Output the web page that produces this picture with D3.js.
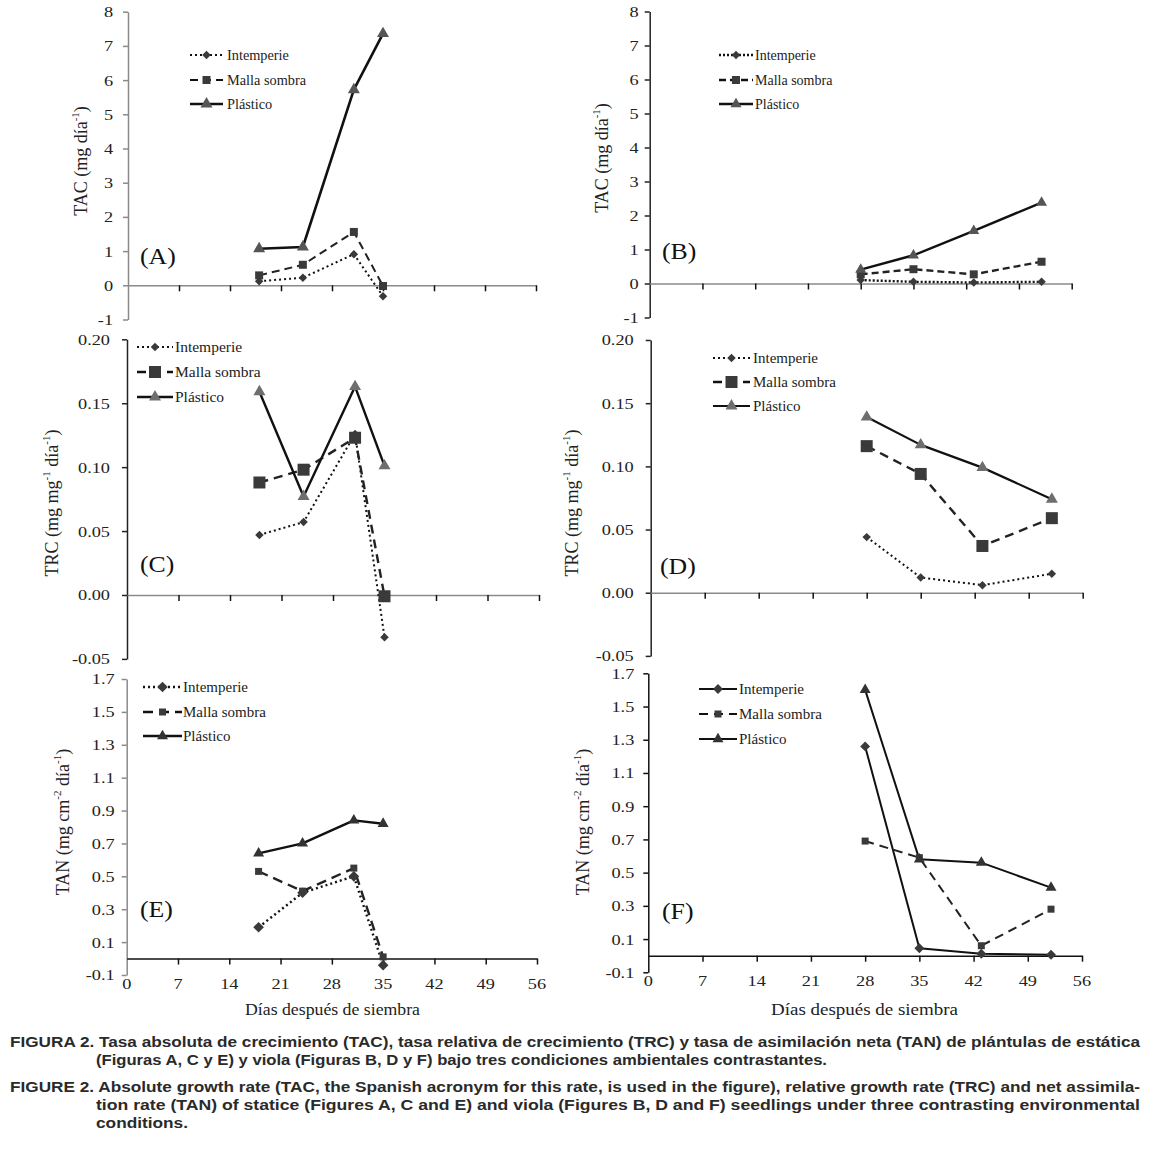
<!DOCTYPE html>
<html><head><meta charset="utf-8">
<script src="https://cdn.jsdelivr.net/npm/d3@7"></script>
<style>body{margin:0;background:#fff} svg{display:block}</style>
</head><body>
<svg id="c" width="1149" height="1150"></svg>
<script>
// ---------- data ----------
const seriesNames = ["Intemperie", "Malla sombra", "Plástico"];
const staticeDays = [18, 24, 31, 35];
const violaDays = [28, 35, 43, 52];
const dayTicks = [0, 7, 14, 21, 28, 35, 42, 49, 56];
const tacTicks = [-1, 0, 1, 2, 3, 4, 5, 6, 7, 8];
const trcTicks = [-0.05, 0, 0.05, 0.10, 0.15, 0.20];
const tanTicks = [-0.1, 0.1, 0.3, 0.5, 0.7, 0.9, 1.1, 1.3, 1.5, 1.7];

const tacA_intemperie = [0.12, 0.22, 0.91, -0.32];
const tacA_malla = [0.29, 0.60, 1.56, -0.02];
const tacA_plastico = [1.07, 1.12, 5.72, 7.36];
const tacB_intemperie = [0.10, 0.05, 0.03, 0.05];
const tacB_malla = [0.27, 0.42, 0.27, 0.64];
const tacB_plastico = [0.41, 0.83, 1.55, 2.38];
const trcC_intemperie = [0.047, 0.057, 0.126, -0.033];
const trcC_malla = [0.088, 0.098, 0.123, -0.001];
const trcC_plastico = [0.159, 0.077, 0.163, 0.101];
const trcD_intemperie = [0.044, 0.012, 0.006, 0.015];
const trcD_malla = [0.116, 0.094, 0.037, 0.059];
const trcD_plastico = [0.139, 0.117, 0.099, 0.074];
const tanE_intemperie = [0.19, 0.40, 0.50, -0.04];
const tanE_malla = [0.53, 0.41, 0.55, 0.01];
const tanE_plastico = [0.64, 0.70, 0.84, 0.82];
const tanF_intemperie = [1.26, 0.045, 0.012, 0.006];
const tanF_malla = [0.69, 0.59, 0.06, 0.28];
const tanF_plastico = [1.60, 0.58, 0.56, 0.41];

const captionLines = [
  "FIGURA 2. Tasa absoluta de crecimiento (TAC), tasa relativa de crecimiento (TRC) y tasa de asimilación neta (TAN) de plántulas de estática",
  "(Figuras A, C y E) y viola (Figuras B, D y F) bajo tres condiciones ambientales contrastantes.",
  "FIGURE 2. Absolute growth rate (TAC, the Spanish acronym for this rate, is used in the figure), relative growth rate (TRC) and net assimila-",
  "tion rate (TAN) of statice (Figures A, C and E) and viola (Figures B, D and F) seedlings under three contrasting environmental",
  "conditions."
];

// ---------- layout ----------
const svg = d3.select("#c");
const SERIF = "'Liberation Serif','Times New Roman',serif";
const SX = 1.18; // horizontal stretch of tick labels
const hy = f => (d => f(d).replace("\u2212", "-"));

const panels = [
  {lab:"(A)", labXY:[140,264], x0:128, x1:536, yr:[319.5,11.7], dom:[-1,8], ticks:tacTicks, fmt:hy(d3.format("d")), gap:15,
   days:staticeDays, data:[tacA_intemperie,tacA_malla,tacA_plastico], zeroCol:"#8a8a8a", yCol:"#8a8a8a",
   title:["TAC (mg día","-1",")"], tXY:[81,161], leg:{x0:190,x1:223,tx:227,ys:[55,80,104],fs:14.3},
   dash:["2,3","8,5",null], lw:[2,2,2.6], msz:{d:6,s:8,t:12}, triCol:"#555", xLabels:false},
  {lab:"(B)", labXY:[662,259], x0:649.7, x1:1071.7, yr:[317.5,11.5], dom:[-1,8], ticks:tacTicks, fmt:hy(d3.format("d")), gap:11,
   days:violaDays, data:[tacB_intemperie,tacB_malla,tacB_plastico], zeroCol:"#8a8a8a", yCol:"#222",
   title:["TAC (mg día","-1",")"], tXY:[602,158], leg:{x0:719,x1:753,tx:755,ys:[55,80,104],fs:14},
   dash:["2,2","7,4",null], lw:[2.4,2.4,2.4], msz:{d:6,s:8,t:11}, triCol:"#555", xLabels:false},
  {lab:"(C)", labXY:[140,572], x0:127, x1:539, yr:[658.9,339.3], dom:[-0.05,0.20], ticks:trcTicks, fmt:hy(d3.format(".2f")), gap:17,
   days:staticeDays, data:[trcC_intemperie,trcC_malla,trcC_plastico], zeroCol:"#8a8a8a", yCol:"#222",
   title:["TRC (mg mg","-1"," día","-1",")"], tXY:[52,503], leg:{x0:137,x1:173,tx:175,ys:[347,372,397],fs:15.5},
   dash:["2,3","9,6",null], lw:[2,2.4,2.4], msz:{d:6,s:12,t:12}, triCol:"#6e6e6e", xLabels:false},
  {lab:"(D)", labXY:[660,574], x0:650.7, x1:1082.7, yr:[655.9,340], dom:[-0.05,0.20], ticks:trcTicks, fmt:hy(d3.format(".2f")), gap:17,
   days:violaDays, data:[trcD_intemperie,trcD_malla,trcD_plastico], zeroCol:"#8a8a8a", yCol:"#222",
   title:["TRC (mg mg","-1"," día","-1",")"], tXY:[572,503], leg:{x0:713,x1:750,tx:753,ys:[358,382,406],fs:15},
   dash:["2,3","9,6",null], lw:[2,2.4,2.2], msz:{d:6,s:12,t:12}, triCol:"#6e6e6e", xLabels:false},
  {lab:"(E)", labXY:[140,917], x0:126.7, x1:537, yr:[975,679], dom:[-0.1,1.7], ticks:tanTicks, fmt:hy(d3.format(".1f")), gap:12,
   days:staticeDays, data:[tanE_intemperie,tanE_malla,tanE_plastico], zeroCol:"#111", yCol:"#8a8a8a",
   title:["TAN (mg cm","-2"," día","-1",")"], tXY:[63,822], leg:{x0:143,x1:182,tx:183,ys:[687,712,736],fs:15},
   dash:["2,3","10,6",null], lw:[2.4,2.4,2.4], msz:{d:7.5,s:7,t:11}, triCol:"#333", xLabels:true, xt:[245,420,1015]},
  {lab:"(F)", labXY:[662,919], x0:648.3, x1:1082, yr:[972.3,673.3], dom:[-0.1,1.7], ticks:tanTicks, fmt:hy(d3.format(".1f")), gap:14,
   days:violaDays, data:[tanF_intemperie,tanF_malla,tanF_plastico], zeroCol:"#111", yCol:"#111",
   title:["TAN (mg cm","-2"," día","-1",")"], tXY:[583,822], leg:{x0:699,x1:737,tx:739,ys:[689,714,739],fs:15},
   dash:[null,"9,6",null], lw:[2,2,2], msz:{d:7,s:7,t:11}, triCol:"#333", xLabels:true, xt:[771,958,1015]}
];

function markerPath(kind, size) {
  if (kind === 2) return d3.symbol(d3.symbolTriangle, Math.sqrt(3) / 4 * size * size)();
  return d3.symbol(d3.symbolSquare, size * size)(); // diamond = rotated square
}

panels.forEach(p => {
  const g = svg.append("g");
  const x = d3.scaleLinear().domain([0, 56]).range([p.x0, p.x1]);
  const y = d3.scaleLinear().domain(p.dom).range(p.yr);

  // y axis
  const ya = g.append("g").attr("transform", `translate(${p.x0},0)`)
    .call(d3.axisLeft(y).tickValues(p.ticks).tickSize(5).tickSizeOuter(0).tickFormat(p.fmt));
  ya.select(".domain").attr("stroke", p.yCol).attr("stroke-width", 1.5);
  ya.selectAll(".tick line").attr("stroke", p.yCol).attr("stroke-width", 1.5);
  ya.selectAll(".tick text")
    .attr("font-family", SERIF).attr("font-size", 15.5).attr("fill", "#222")
    .attr("x", -p.gap / SX).attr("transform", `scale(${SX},1)`);

  // x axis at zero
  const xa = g.append("g").attr("transform", `translate(0,${y(0)})`)
    .call(d3.axisBottom(x).tickValues(dayTicks.filter(d => d > 0)).tickSize(6).tickSizeOuter(0).tickFormat(""));
  xa.select(".domain").attr("stroke", p.zeroCol).attr("stroke-width", 1.6);
  xa.selectAll(".tick line").attr("stroke", "#111").attr("stroke-width", 1.5);

  if (p.xLabels) {
    g.append("g").selectAll("text").data(dayTicks).join("text")
      .attr("transform", d => `translate(${x(d)},${p.yr[0] + 14}) scale(${SX},1)`)
      .attr("text-anchor", "middle").attr("font-family", SERIF).attr("font-size", 15.5).attr("fill", "#222")
      .text(d => d);
    g.append("text").attr("x", p.xt[0]).attr("y", p.xt[2])
      .attr("textLength", p.xt[1] - p.xt[0]).attr("lengthAdjust", "spacingAndGlyphs")
      .attr("font-family", SERIF).attr("font-size", 17).attr("fill", "#222")
      .text("Días después de siembra");
  }

  // y title
  const tt = g.append("text")
    .attr("transform", `translate(${p.tXY[0]},${p.tXY[1]}) rotate(-90)`)
    .attr("text-anchor", "middle").attr("dominant-baseline", "central")
    .attr("font-family", SERIF).attr("font-size", 18).attr("fill", "#222");
  p.title.forEach(s => {
    const ts = tt.append("tspan").text(s);
    if (/^-\d$/.test(s)) ts.attr("font-size", 11).attr("baseline-shift", "super");
  });

  // panel label
  g.append("text").attr("x", p.labXY[0]).attr("y", p.labXY[1])
    .attr("font-family", SERIF).attr("font-size", 23).attr("fill", "#111")
    .attr("transform", `translate(${p.labXY[0]},0) scale(1.12,1) translate(${-p.labXY[0]},0)`)
    .text(p.lab);

  // series lines
  const line = d3.line().x((d, i) => x(p.days[i])).y(d => y(d));
  p.data.forEach((vals, si) => {
    g.append("path").attr("d", line(vals)).attr("fill", "none")
      .attr("stroke", si === 1 ? "#222" : "#111")
      .attr("stroke-width", p.lw[si])
      .attr("stroke-dasharray", p.dash[si])
      .attr("stroke-linejoin", "round");
  });
  // markers
  p.data.forEach((vals, si) => {
    const sz = si === 0 ? p.msz.d : si === 1 ? p.msz.s : p.msz.t;
    g.append("g").selectAll("path").data(vals).join("path")
      .attr("d", markerPath(si, sz))
      .attr("transform", (d, i) => `translate(${x(p.days[i])},${y(d)})` + (si === 0 ? " rotate(45)" : ""))
      .attr("fill", si === 2 ? p.triCol : "#3a3a3a");
  });

  // legend
  seriesNames.forEach((name, si) => {
    const ly = p.leg.ys[si];
    const lg = g.append("g");
    lg.append("line").attr("x1", p.leg.x0).attr("x2", p.leg.x1).attr("y1", ly).attr("y2", ly)
      .attr("stroke", "#111").attr("stroke-width", p.lw[si]).attr("stroke-dasharray", p.dash[si]);
    const sz = si === 0 ? p.msz.d : si === 1 ? p.msz.s : p.msz.t;
    lg.append("path").attr("d", markerPath(si, sz))
      .attr("transform", `translate(${(p.leg.x0 + p.leg.x1) / 2},${ly})` + (si === 0 ? " rotate(45)" : ""))
      .attr("fill", si === 2 ? p.triCol : "#3a3a3a");
    lg.append("text").attr("x", p.leg.tx).attr("y", ly).attr("dy", "0.33em")
      .attr("font-family", SERIF).attr("font-size", p.leg.fs).attr("fill", "#222").text(name);
  });
});

// caption
const capPos = [
  {x:10, y:1047, w:1130}, {x:96, y:1065, w:731},
  {x:10, y:1092, w:1130}, {x:96, y:1110, w:1044}, {x:96, y:1128, w:92}
];
captionLines.forEach((t, i) => {
  svg.append("text").attr("x", capPos[i].x).attr("y", capPos[i].y)
    .attr("textLength", capPos[i].w).attr("lengthAdjust", "spacingAndGlyphs")
    .attr("font-family", "'Liberation Sans Narrow','Arial Narrow','Liberation Sans',Arial,sans-serif")
    .attr("font-weight", "bold").attr("font-size", 14.5).attr("fill", "#2a2a2a").text(t);
});
</script>
</body></html>
